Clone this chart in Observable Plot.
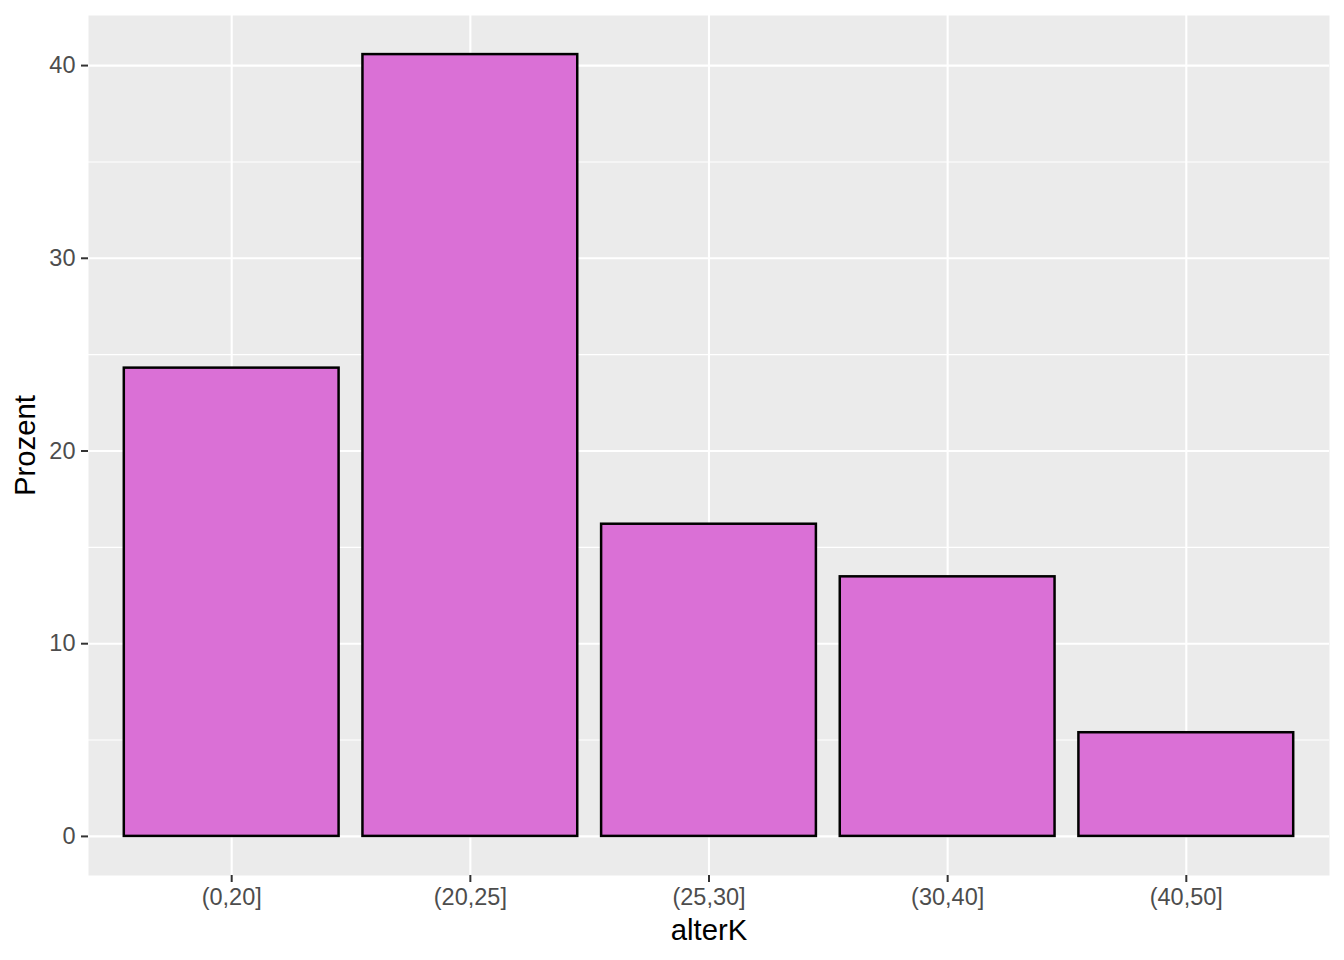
<!DOCTYPE html>
<html>
<head>
<meta charset="utf-8">
<script src="https://cdn.jsdelivr.net/npm/d3@7"></script>
<script src="https://cdn.jsdelivr.net/npm/@observablehq/plot@0.6"></script>
<style>
  html, body { margin: 0; padding: 0; background: #fff; }
  #chart svg { display: block; }
</style>
</head>
<body>
<div id="chart"></div>
<script>
const categories = ["(0,20]", "(20,25]", "(25,30]", "(30,40]", "(40,50]"];
const percents = [24.3, 40.57, 16.2, 13.47, 5.38];
const yMajorTicks = [0, 10, 20, 30, 40];
const yMinorTicks = [5, 15, 25, 35];
const xTitle = "alterK";
const yTitle = "Prozent";

const data = categories.map((c, i) => ({cat: c, value: percents[i]}));
const ymax = d3.max(percents);
const pad = ymax * 0.05;

const chart = Plot.plot({
  width: 1344,
  height: 960,
  marginLeft: 88,
  marginRight: 15,
  marginTop: 15,
  marginBottom: 85,
  style: {fontFamily: "'Liberation Sans', Arial, sans-serif", background: "#fff"},
  x: {type: "band", domain: categories, paddingInner: 0.1, paddingOuter: 0.15, align: 0.5, round: false},
  y: {domain: [-pad, ymax + pad]},
  marks: [
    Plot.frame({fill: "#EBEBEB", stroke: null}),
    Plot.ruleY(yMinorTicks, {stroke: "#fff", strokeWidth: 1.1}),
    Plot.ruleY(yMajorTicks, {stroke: "#fff", strokeWidth: 2.1}),
    Plot.ruleX(categories, {stroke: "#fff", strokeWidth: 2.1}),
    Plot.barY(data, {x: "cat", y: "value", fill: "#DA70D6", stroke: "#000", strokeWidth: 2.5}),
    Plot.axisY(yMajorTicks, {tickSize: 7, tickPadding: 6, fontSize: 23.5, color: "#333", strokeWidth: 2, label: null}),
    Plot.axisX({tickSize: 7, tickPadding: 6, fontSize: 23.5, color: "#333", strokeWidth: 2, label: null}),
    Plot.text([yTitle], {frameAnchor: "left", dx: -63, rotate: -90, fontSize: 29.3, fill: "#000", textAnchor: "middle", lineAnchor: "middle"}),
    Plot.text([xTitle], {frameAnchor: "bottom", dy: 55, fontSize: 29.3, fill: "#000", textAnchor: "middle", lineAnchor: "middle"})
  ]
});

d3.select(chart).selectAll('g[aria-label="y-axis tick label"], g[aria-label="x-axis tick label"]').attr("fill", "#4D4D4D");
document.getElementById("chart").appendChild(chart);
</script>
</body>
</html>
